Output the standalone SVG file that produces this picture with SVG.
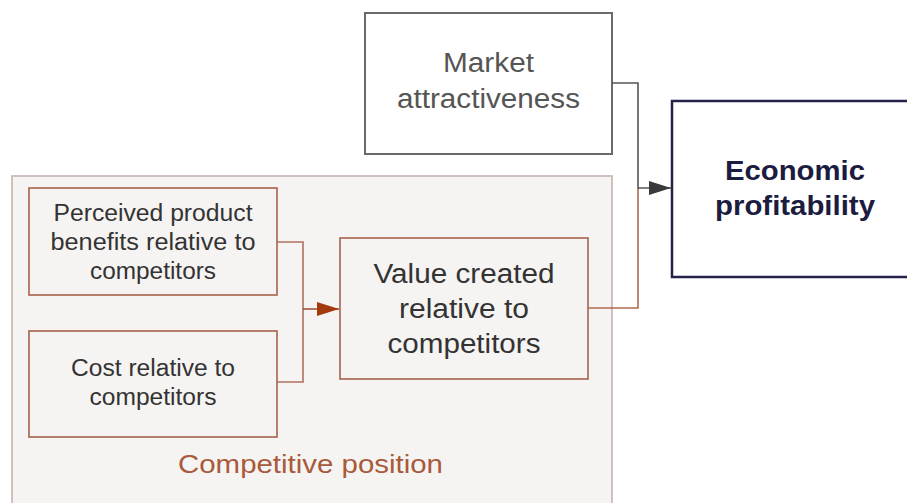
<svg xmlns="http://www.w3.org/2000/svg" width="907" height="503" viewBox="0 0 907 503">
  <style>
    .lbl { font-family: "Liberation Sans", Arial, sans-serif; text-anchor: middle; }
    .big { font-size: 27px; }
    .small { font-size: 23.5px; fill: #333333; }
    .inner { fill: #f6f4f2; stroke: #a8624c; stroke-width: 1.6; }
    .wire { fill: none; stroke-width: 1.6; }
  </style>
  <defs>
    <marker id="arrowOrange" markerUnits="userSpaceOnUse" markerWidth="24" markerHeight="16" refX="22" refY="7" orient="auto">
      <path d="M0,0 L22,7 L0,14 z" fill="#a33a0e"/>
    </marker>
    <marker id="arrowGray" markerUnits="userSpaceOnUse" markerWidth="24" markerHeight="16" refX="22" refY="7" orient="auto">
      <path d="M0,0 L22,7 L0,14 z" fill="#3a3a3a"/>
    </marker>
  </defs>

  <rect x="0" y="0" width="907" height="503" fill="#ffffff"/>

  <!-- competitive position container -->
  <g id="competitive-position">
    <rect x="12" y="176" width="600" height="340" fill="#f6f4f2" stroke="#c9bcb8" stroke-width="1.8"/>
    <text class="lbl" x="310.5" y="473" font-size="25" fill="#a85a3a" textLength="265" lengthAdjust="spacingAndGlyphs">Competitive position</text>
  </g>

  <g id="market-attractiveness">
    <rect x="365" y="13" width="247" height="141" fill="#ffffff" stroke="#6a6a6a" stroke-width="2"/>
    <text class="lbl big" x="488.5" y="72" fill="#555555" textLength="91" lengthAdjust="spacingAndGlyphs">Market</text>
    <text class="lbl big" x="488.5" y="108" fill="#555555" textLength="183" lengthAdjust="spacingAndGlyphs">attractiveness</text>
  </g>

  <g id="economic-profitability">
    <rect x="672" y="101" width="250" height="176" fill="#ffffff" stroke="#22224a" stroke-width="2.5"/>
    <text class="lbl big" x="795" y="180" font-weight="bold" fill="#1c1c40" textLength="140" lengthAdjust="spacingAndGlyphs">Economic</text>
    <text class="lbl big" x="795" y="215" font-weight="bold" fill="#1c1c40" textLength="160" lengthAdjust="spacingAndGlyphs">profitability</text>
  </g>

  <g id="perceived-benefits">
    <rect class="inner" x="29" y="188" width="248" height="107"/>
    <text class="lbl small" x="153" y="221" textLength="199" lengthAdjust="spacingAndGlyphs">Perceived product</text>
    <text class="lbl small" x="153" y="250" textLength="205" lengthAdjust="spacingAndGlyphs">benefits relative to</text>
    <text class="lbl small" x="153" y="279" textLength="126" lengthAdjust="spacingAndGlyphs">competitors</text>
  </g>

  <g id="relative-cost">
    <rect class="inner" x="29" y="331" width="248" height="106"/>
    <text class="lbl small" x="153" y="376" textLength="164" lengthAdjust="spacingAndGlyphs">Cost relative to</text>
    <text class="lbl small" x="153" y="405" textLength="127" lengthAdjust="spacingAndGlyphs">competitors</text>
  </g>

  <g id="value-created">
    <rect class="inner" x="340" y="238" width="248" height="141"/>
    <text class="lbl big" x="464" y="283" fill="#333333" textLength="181" lengthAdjust="spacingAndGlyphs">Value created</text>
    <text class="lbl big" x="464" y="318" fill="#333333" textLength="130" lengthAdjust="spacingAndGlyphs">relative to</text>
    <text class="lbl big" x="464" y="353" fill="#333333" textLength="153" lengthAdjust="spacingAndGlyphs">competitors</text>
  </g>

  <g id="connectors">
    <path class="wire" d="M277,242 H303 V382 H277" stroke="#b07060"/>
    <path class="wire" d="M303,309 H339" stroke="#9a4a2a" stroke-width="2.4" marker-end="url(#arrowOrange)"/>
    <path class="wire" d="M588,308 H638 V188" stroke="#b06a50"/>
    <path class="wire" d="M612,83 H638 V188 H671" stroke="#555555" marker-end="url(#arrowGray)"/>
  </g>
</svg>
